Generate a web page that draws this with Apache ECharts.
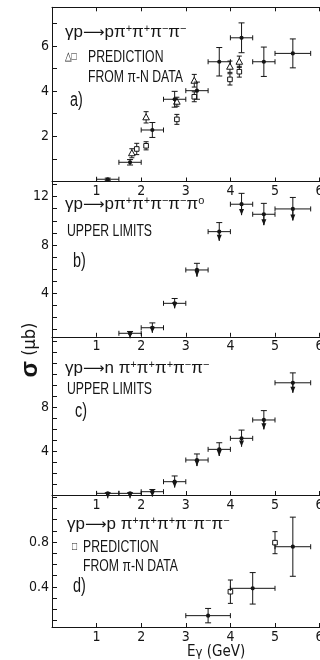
<!DOCTYPE html>
<html><head><meta charset="utf-8">
<script src="https://cdn.jsdelivr.net/npm/echarts@6/dist/echarts.min.js"></script>
<style>html,body{margin:0;padding:0;background:#fff}#c{width:320px;height:660px}</style>
</head><body><div id="c"></div>
<script>
// ---------- data ----------
const xTickLabels = [1, 2, 3, 4, 5, 6];

// panel a: γp → p π+ π+ π- π-
const aE    = [1.25, 1.75, 2.25, 2.75, 3.25, 3.75, 4.25, 4.75, 5.4];
const aELo  = [1.0, 1.5, 2.0, 2.5, 3.0, 3.5, 4.0, 4.5, 5.0];
const aEHi  = [1.5, 2.0, 2.5, 3.0, 3.5, 4.0, 4.5, 5.0, 5.8];
const aSig  = [0.1, 0.85, 2.28, 3.64, 4.02, 5.3, 6.36, 5.3, 5.67];
const aErr  = [0.05, 0.12, 0.33, 0.35, 0.38, 0.63, 0.66, 0.65, 0.64];
const aTriE = [1.79, 2.11, 2.8, 3.19, 3.99, 4.2];
const aTri  = [1.25, 2.84, 3.53, 4.46, 5.08, 5.3];
const aTriErr = [0.2, 0.25, 0.2, 0.28, 0.25, 0.25];
const aSqE  = [1.9, 2.11, 2.8, 3.19, 3.99, 4.2];
const aSq   = [1.44, 1.58, 2.75, 3.75, 4.52, 4.86];
const aSqErr = [0.25, 0.18, 0.22, 0.22, 0.25, 0.24];
const aYTicks = [1, 2, 3, 4, 5, 6, 7];
const aYLabels = [2, 4, 6];

// panel b: γp → p π+ π+ π- π- π0 (upper limits)
const bE   = [1.75, 2.25, 2.75, 3.25, 3.75, 4.25, 4.75, 5.4];
const bELo = [1.5, 2.0, 2.5, 3.0, 3.5, 4.0, 4.5, 5.0];
const bEHi = [2.0, 2.5, 3.0, 3.5, 4.0, 4.5, 5.0, 5.8];
const bSig = [0.69, 1.15, 3.17, 5.93, 9.1, 11.37, 10.54, 10.98];
const bErr = [0.15, 0.4, 0.4, 0.55, 0.75, 0.9, 0.9, 0.95];
const bYTicks = [1, 2, 3, 4, 5, 6, 7, 8, 9, 10, 11, 12, 13];
const bYLabels = [4, 8, 12];

// panel c: γp → n π+ π+ π+ π- π- (upper limits)
const cE   = [1.25, 1.75, 2.25, 2.75, 3.25, 3.75, 4.25, 4.75, 5.4];
const cELo = [1.0, 1.5, 2.0, 2.5, 3.0, 3.5, 4.0, 4.5, 5.0];
const cEHi = [1.5, 2.0, 2.5, 3.0, 3.5, 4.0, 4.5, 5.0, 5.8];
const cSig = [0.15, 0.15, 0.3, 1.21, 3.18, 4.15, 5.15, 6.82, 10.2];
const cErr = [0.05, 0.05, 0.2, 0.52, 0.55, 0.6, 0.75, 0.85, 0.9];
const cYTicks = [1, 2, 3, 4, 5, 6, 7, 8, 9, 10, 11, 12, 13, 14];
const cYLabels = [4, 8];

// panel d: γp → p π+ π+ π+ π- π- π-
const dE   = [3.5, 4.5, 5.4];
const dELo = [3.0, 4.0, 5.0];
const dEHi = [4.0, 5.0, 5.8];
const dSig = [0.145, 0.388, 0.758];
const dErr = [0.064, 0.14, 0.263];
const dSqE = [4.0, 5.0];
const dSq  = [0.358, 0.794];
const dSqErr = [0.104, 0.098];
const dYTicks = [0.1, 0.2, 0.3, 0.4, 0.5, 0.6, 0.7, 0.8, 0.9, 1.0, 1.1, 1.2];
const dYLabels = [0.4, 0.8];

// ---------- drawing ----------
const INK = '#151515';
const NARROW = "'Liberation Sans Narrow','DejaVu Sans Condensed','Liberation Sans',sans-serif";
const chart = echarts.init(document.getElementById('c'), null, {renderer: 'canvas'});

const grids = [
  {left: 52, width: 267.6, top: 7.3, height: 174.2},
  {left: 52, width: 267.6, top: 181.5, height: 155.3},
  {left: 52, width: 267.6, top: 336.8, height: 158.2},
  {left: 52, width: 267.6, top: 495, height: 132}
];
grids.forEach(g => { g.outerBoundsMode = 'none'; g.containLabel = false; });
const yRanges = [[0, 7.71], [0.4, 13.25], [0, 14.38], [0.044, 1.218]];
const yTicks = [aYTicks, bYTicks, cYTicks, dYTicks];
const yLabels = [aYLabels, bYLabels, cYLabels, dYLabels];

const axisLabelStyle = {color: INK, fontFamily: NARROW, fontSize: 14};

const xAxes = grids.map((g, i) => ({
  type: 'value', gridIndex: i, min: 0, max: 6, interval: 1, position: 'bottom',
  axisLine: {show: true, lineStyle: {color: INK, width: 1}},
  axisTick: {show: true, inside: true, length: 4, lineStyle: {color: INK}},
  axisLabel: Object.assign({show: true, margin: 3, customValues: xTickLabels, hideOverlap: false,
    formatter: v => String(v)}, axisLabelStyle),
  splitLine: {show: false}
}));
xAxes.push({
  type: 'value', gridIndex: 0, min: 0, max: 6, interval: 1, position: 'top',
  axisLine: {show: true, lineStyle: {color: INK, width: 1}},
  axisTick: {show: true, inside: true, length: 4, lineStyle: {color: INK}},
  axisLabel: {show: false}, splitLine: {show: false}
});

const yAxes = grids.map((g, i) => ({
  type: 'value', gridIndex: i, min: yRanges[i][0], max: yRanges[i][1],
  axisLine: {show: true, onZero: false, lineStyle: {color: INK, width: 1}},
  axisTick: {show: true, inside: true, length: 5, customValues: yTicks[i], lineStyle: {color: INK}},
  axisLabel: Object.assign({show: true, margin: 3, customValues: yLabels[i],
    formatter: v => (i === 3 ? String(v) : String(Math.round(v)))}, axisLabelStyle),
  splitLine: {show: false}
}));

function measured(arrowDown) {
  return function (params, api) {
    const e = api.value(0), lo = api.value(1), hi = api.value(2), v = api.value(3), er = api.value(4);
    const p = api.coord([e, v]), L = api.coord([lo, v]), H = api.coord([hi, v]);
    const T = api.coord([e, v + er]), B = api.coord([e, v - er]);
    const st = {stroke: INK, lineWidth: 1};
    const ch = [
      {type: 'line', shape: {x1: L[0], y1: p[1], x2: H[0], y2: p[1]}, style: st},
      {type: 'line', shape: {x1: L[0], y1: p[1] - 2.5, x2: L[0], y2: p[1] + 2.5}, style: st},
      {type: 'line', shape: {x1: H[0], y1: p[1] - 2.5, x2: H[0], y2: p[1] + 2.5}, style: st},
      {type: 'line', shape: {x1: p[0], y1: T[1], x2: p[0], y2: B[1]}, style: st},
      {type: 'line', shape: {x1: p[0] - 3, y1: T[1], x2: p[0] + 3, y2: T[1]}, style: st}
    ];
    if (arrowDown) {
      const by = Math.max(B[1], p[1] + 5);
      ch.push({type: 'line', shape: {x1: p[0], y1: p[1], x2: p[0], y2: by}, style: st});
      ch.push({type: 'polygon', shape: {points: [[p[0] - 2.5, by - 6], [p[0] + 2.5, by - 6], [p[0], by]]}, style: {fill: INK}});
    } else {
      ch.push({type: 'line', shape: {x1: p[0] - 3, y1: B[1], x2: p[0] + 3, y2: B[1]}, style: st});
    }
    ch.push({type: 'circle', shape: {cx: p[0], cy: p[1], r: 2.1}, style: {fill: INK}});
    return {type: 'group', children: ch};
  };
}
function predicted(kind) {
  return function (params, api) {
    const e = api.value(0), v = api.value(1), er = api.value(2);
    const p = api.coord([e, v]), T = api.coord([e, v + er]), B = api.coord([e, v - er]);
    const st = {stroke: INK, lineWidth: 1};
    const ch = [
      {type: 'line', shape: {x1: p[0], y1: T[1], x2: p[0], y2: B[1]}, style: st},
      {type: 'line', shape: {x1: p[0] - 2.5, y1: T[1], x2: p[0] + 2.5, y2: T[1]}, style: st},
      {type: 'line', shape: {x1: p[0] - 2.5, y1: B[1], x2: p[0] + 2.5, y2: B[1]}, style: st}
    ];
    if (kind === 'tri') {
      ch.push({type: 'polygon', shape: {points: [[p[0], p[1] - 3.5], [p[0] - 3.3, p[1] + 2.5], [p[0] + 3.3, p[1] + 2.5]]},
        style: {fill: '#fff', stroke: INK, lineWidth: 1}});
    } else {
      ch.push({type: 'rect', shape: {x: p[0] - 2.3, y: p[1] - 2.3, width: 4.6, height: 4.6},
        style: {fill: '#fff', stroke: INK, lineWidth: 1}});
    }
    return {type: 'group', children: ch};
  };
}
const zipM = (E, lo, hi, s, e) => E.map((x, i) => [x, lo[i], hi[i], s[i], e[i]]);
const zipP = (E, s, e) => E.map((x, i) => [x, s[i], e[i]]);

const series = [
  {type: 'custom', xAxisIndex: 0, yAxisIndex: 0, renderItem: predicted('tri'), data: zipP(aTriE, aTri, aTriErr)},
  {type: 'custom', xAxisIndex: 0, yAxisIndex: 0, renderItem: predicted('sq'), data: zipP(aSqE, aSq, aSqErr)},
  {type: 'custom', xAxisIndex: 0, yAxisIndex: 0, renderItem: measured(false), data: zipM(aE, aELo, aEHi, aSig, aErr)},
  {type: 'custom', xAxisIndex: 1, yAxisIndex: 1, renderItem: measured(true), data: zipM(bE, bELo, bEHi, bSig, bErr)},
  {type: 'custom', xAxisIndex: 2, yAxisIndex: 2, renderItem: measured(true), data: zipM(cE, cELo, cEHi, cSig, cErr)},
  {type: 'custom', xAxisIndex: 3, yAxisIndex: 3, renderItem: predicted('sq'), data: zipP(dSqE, dSq, dSqErr)},
  {type: 'custom', xAxisIndex: 3, yAxisIndex: 3, renderItem: measured(false), data: zipM(dE, dELo, dEHi, dSig, dErr)}
];
series.forEach(s => { s.clip = false; s.silent = true; });

// ---------- text ----------
const FORM = "'Liberation Sans','DejaVu Sans',sans-serif";
const rich = {
  m: {fontFamily: FORM, fontSize: 17, fill: INK, verticalAlign: 'bottom'},
  s: {fontFamily: FORM, fontSize: 11, fill: INK, verticalAlign: 'top'},
  ar: {fontFamily: "'DejaVu Sans',sans-serif", fontSize: 15, fill: INK, verticalAlign: 'bottom'}
};
function formula(parts) {
  return parts.map(p => '{m|' + p[0] + '}' + (p[1] ? '{s|' + p[1] + '}' : '')).join('');
}
function rtext(x, y, txt) {
  return {type: 'text', x: x, y: y, silent: true,
    style: {text: txt, rich: rich, fill: INK, verticalAlign: 'middle', align: 'left'}};
}
function ctext(x, y, txt, size) {
  return {type: 'text', x: x, y: y, scaleX: 0.72, silent: true,
    style: {text: txt, font: (size || 17) + "px 'Liberation Sans',sans-serif", fill: INK, verticalAlign: 'middle', align: 'left'}};
}
const ARW = '{ar|⟶}';
const graphics = [
  rtext(65, 32, '{m|γp}' + ARW + formula([['p', ''], ['π', '+'], ['π', '+'], ['π', '−'], ['π', '−']])),
  ctext(65, 57, '△□', 12),
  ctext(88, 57, 'PREDICTION'),
  ctext(88, 77, 'FROM π-N DATA'),
  ctext(70, 100, 'a)', 20),

  rtext(65, 204, '{m|γp}' + ARW + formula([['p', ''], ['π', '+'], ['π', '+'], ['π', '−'], ['π', '−'], ['π', 'o']])),
  ctext(67, 231, 'UPPER LIMITS'),
  ctext(73, 261, 'b)', 20),

  rtext(65, 368, '{m|γp}' + ARW + formula([['n ', ''], ['π', '+'], ['π', '+'], ['π', '+'], ['π', '−'], ['π', '−']])),
  ctext(67, 389, 'UPPER LIMITS'),
  ctext(75, 411, 'c)', 20),

  rtext(67, 524, '{m|γp}' + ARW + formula([['p ', ''], ['π', '+'], ['π', '+'], ['π', '+'], ['π', '−'], ['π', '−'], ['π', '−']])),
  ctext(72, 547, '□', 12),
  ctext(83, 547, 'PREDICTION'),
  ctext(83, 566, 'FROM π-N DATA'),
  ctext(73, 586, 'd)', 20),

  {type: 'text', x: 30.5, y: 350, rotation: Math.PI / 2, silent: true,
    style: {text: '{g|σ}{n| (μb)}', align: 'center', verticalAlign: 'middle',
      rich: {g: {fontFamily: FORM, fontSize: 24, fontWeight: 'bold', fill: INK},
             n: {fontFamily: NARROW, fontSize: 18, fill: INK}}}},
  {type: 'text', x: 187, y: 652, silent: true,
    style: {text: '{e|E}{g|γ}{e| (GeV)}', align: 'left', verticalAlign: 'middle',
      rich: {e: {fontFamily: NARROW, fontSize: 15, fill: INK, verticalAlign: 'top'},
             g: {fontFamily: NARROW, fontSize: 13, fill: INK, verticalAlign: 'bottom'}}}}
];

chart.setOption({
  animation: false,
  backgroundColor: '#fff',
  grid: grids,
  xAxis: xAxes,
  yAxis: yAxes,
  series: series,
  graphic: graphics
});
</script></body></html>
